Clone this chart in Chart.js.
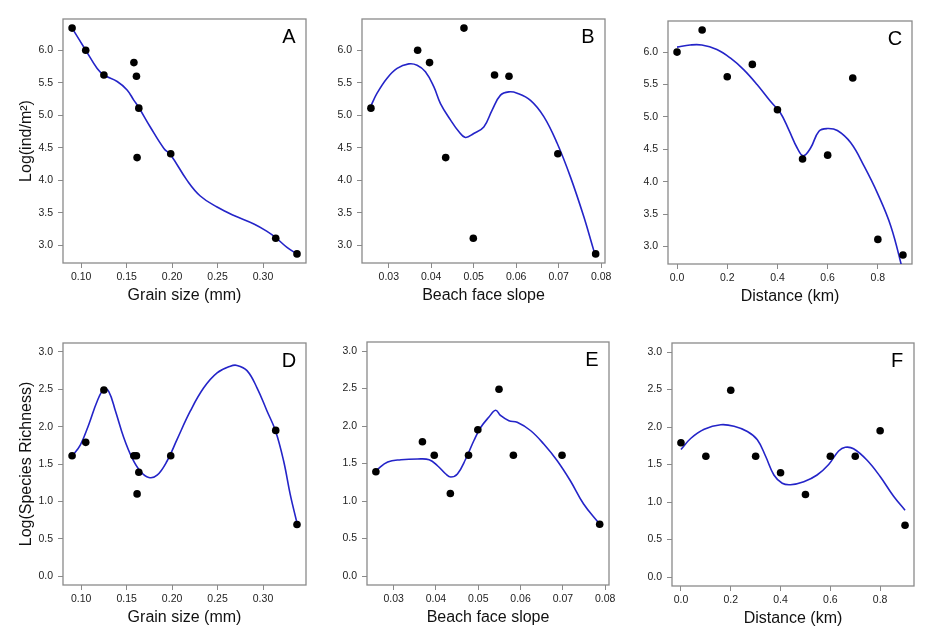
<!DOCTYPE html>
<html>
<head>
<meta charset="utf-8">
<script src="https://cdn.jsdelivr.net/npm/chart.js@4"></script>
<style>
  html, body { margin: 0; padding: 0; background: #ffffff; }
  #wrap { position: relative; width: 927px; height: 636px; overflow: hidden; background: #fff; }
  canvas { position: absolute; }
</style>
</head>
<body>
<div id="wrap"></div>
<script>
// ---------- site observations (10 sites) ----------
const distanceKm   = [0.0, 0.1, 0.2, 0.3, 0.4, 0.5, 0.6, 0.7, 0.8, 0.9];
const grainSize    = [0.105, 0.090, 0.125, 0.158, 0.1634, 0.1615, 0.1985, 0.1608, 0.314, 0.3374];
const beachSlope   = [0.0368, 0.0477, 0.0549, 0.0396, 0.0258, 0.0434, 0.0698, 0.0583, 0.0499, 0.0787];
const logAbundance = [6.00, 6.34, 5.62, 5.81, 5.11, 4.35, 4.41, 5.60, 3.11, 2.87];
const logRichness  = [1.79, 1.61, 2.49, 1.61, 1.39, 1.10, 1.61, 1.61, 1.95, 0.69];

// ---------- fitted smooth curves ----------
const fitA_x = [0.090,0.105,0.1176,0.125,0.1396,0.1505,0.158,0.1634,0.176,0.191,0.1985,0.2165,0.231,0.2495,0.268,0.290,0.304,0.314,0.3264,0.3374];
const fitA_y = [6.34,6.00,5.72,5.62,5.52,5.39,5.23,5.12,4.82,4.49,4.39,4.00,3.76,3.59,3.46,3.33,3.22,3.12,2.97,2.87];

const fitB_x = [0.02576,0.02725,0.0296,0.03196,0.0347,0.03667,0.03863,0.0406,0.04217,0.04452,0.04648,0.04805,0.0500,0.05237,0.05433,0.0563,0.05826,0.06022,0.06336,0.0665,0.06964,0.07278,0.07592,0.07827,0.07866];
const fitB_y = [5.14,5.34,5.57,5.72,5.79,5.77,5.67,5.44,5.18,4.93,4.75,4.66,4.72,4.82,5.08,5.31,5.36,5.34,5.23,4.98,4.57,4.05,3.44,2.92,2.85];

const fitC_x = [0.0,0.052,0.0987,0.1587,0.212,0.2653,0.3187,0.372,0.412,0.4453,0.4787,0.5027,0.532,0.5653,0.5987,0.6387,0.692,0.7453,0.7987,0.852,0.9];
const fitC_y = [6.077,6.11,6.11,6.04,5.91,5.73,5.50,5.24,5.06,4.80,4.52,4.40,4.52,4.78,4.82,4.79,4.60,4.24,3.82,3.31,2.62];

const fitD_x = [0.0901,0.0993,0.1084,0.1176,0.1249,0.1304,0.1377,0.1469,0.156,0.1652,0.1744,0.1835,0.1945,0.2055,0.2201,0.2348,0.2495,0.2641,0.2714,0.2824,0.2934,0.3044,0.3139,0.3227,0.330,0.3374];
const fitD_y = [1.605,1.76,2.03,2.34,2.50,2.47,2.21,1.85,1.58,1.40,1.32,1.35,1.54,1.83,2.21,2.52,2.72,2.81,2.82,2.75,2.52,2.21,1.94,1.54,1.09,0.71];

const fitE_x = [0.02592,0.02859,0.03173,0.03565,0.0384,0.04036,0.04232,0.0435,0.04507,0.04703,0.049,0.05056,0.05253,0.0541,0.05527,0.05724,0.0592,0.06234,0.06548,0.06862,0.07176,0.0749,0.07843];
const fitE_y = [1.41,1.52,1.55,1.56,1.55,1.47,1.36,1.32,1.36,1.56,1.81,1.98,2.12,2.21,2.14,2.07,2.05,1.94,1.76,1.54,1.27,0.96,0.71];

const fitF_x = [0.0,0.04,0.0933,0.16,0.2133,0.2667,0.3067,0.34,0.3733,0.4067,0.44,0.4933,0.5467,0.5933,0.6333,0.66,0.6933,0.7467,0.80,0.8533,0.90];
const fitF_y = [1.70,1.85,1.97,2.03,2.01,1.94,1.83,1.61,1.36,1.25,1.23,1.27,1.36,1.50,1.68,1.73,1.71,1.56,1.34,1.08,0.89];

// ---------- tick values / labels ----------
const ticksGrain   = [0.10, 0.15, 0.20, 0.25, 0.30];
const labelsGrain  = ['0.10', '0.15', '0.20', '0.25', '0.30'];
const ticksSlope   = [0.03, 0.04, 0.05, 0.06, 0.07, 0.08];
const labelsSlope  = ['0.03', '0.04', '0.05', '0.06', '0.07', '0.08'];
const ticksDist    = [0.0, 0.2, 0.4, 0.6, 0.8];
const labelsDist   = ['0.0', '0.2', '0.4', '0.6', '0.8'];
const ticksAbund   = [3.0, 3.5, 4.0, 4.5, 5.0, 5.5, 6.0];
const labelsAbund  = ['3.0', '3.5', '4.0', '4.5', '5.0', '5.5', '6.0'];
const ticksRich    = [0.0, 0.5, 1.0, 1.5, 2.0, 2.5, 3.0];
const labelsRich   = ['0.0', '0.5', '1.0', '1.5', '2.0', '2.5', '3.0'];

// ---------- drawing ----------
const FONT = '"Liberation Sans", Arial, Helvetica, sans-serif';
const GRAY = '#8a8a8a';
const LINE_BLUE = '#2424c8';
const PAD_L = 63, PAD_T = 19, PAD_R = 10, PAD_B = 50;

const framePlugin = {
  id: 'frameLetter',
  beforeDatasetsDraw(chart, args, opts) {
    const a = chart.chartArea, ctx = chart.ctx;
    ctx.save();
    ctx.strokeStyle = GRAY;
    ctx.lineWidth = 1.3;
    ctx.strokeRect(a.left, a.top, a.right - a.left, a.bottom - a.top);
    ctx.restore();
  },
  afterDatasetsDraw(chart, args, opts) {
    const a = chart.chartArea, ctx = chart.ctx;
    ctx.save();
    ctx.fillStyle = '#000';
    ctx.font = '20px ' + FONT;
    ctx.textAlign = 'center';
    ctx.textBaseline = 'middle';
    ctx.fillText(opts.letter, a.right - 17, a.top + 18);
    ctx.restore();
  }
};

function pairs(xs, ys) { return xs.map((x, i) => ({ x: x, y: ys[i] })); }

function makePanel(cfg) {
  const W = (cfg.box.r - cfg.box.l) + PAD_L + PAD_R;
  const H = (cfg.box.b - cfg.box.t) + PAD_T + PAD_B;
  const cv = document.createElement('canvas');
  cv.width = W; cv.height = H;
  cv.style.left = (cfg.box.l - PAD_L) + 'px';
  cv.style.top = (cfg.box.t - PAD_T) + 'px';
  cv.style.width = W + 'px';
  cv.style.height = H + 'px';
  document.getElementById('wrap').appendChild(cv);

  new Chart(cv, {
    type: 'scatter',
    data: {
      datasets: [
        {
          data: pairs(cfg.px, cfg.py),
          backgroundColor: '#000',
          borderColor: '#000',
          pointRadius: 3.8,
          pointHoverRadius: 3.8,
          borderWidth: 0
        },
        {
          data: pairs(cfg.fx, cfg.fy),
          showLine: true,
          borderColor: LINE_BLUE,
          borderWidth: 1.6,
          pointRadius: 0,
          tension: 0.4,
          fill: false
        }
      ]
    },
    options: {
      responsive: false,
      animation: false,
      events: [],
      layout: { padding: { left: 0, top: PAD_T, right: PAD_R, bottom: 0 } },
      plugins: {
        legend: { display: false },
        tooltip: { enabled: false },
        frameLetter: { letter: cfg.letter }
      },
      scales: {
        x: {
          type: 'linear',
          min: cfg.xmin, max: cfg.xmax,
          afterBuildTicks: s => { s.ticks = cfg.xt.map(v => ({ value: v })); },
          afterFit: s => { s.height = PAD_B; },
          ticks: {
            autoSkip: false, maxRotation: 0, minRotation: 0,
            callback: (v, i) => cfg.xl[i],
            color: '#222', font: { family: FONT, size: 10.5 }, padding: 3
          },
          grid: { display: true, drawOnChartArea: false, drawTicks: true, tickLength: 5, color: GRAY, lineWidth: 1 },
          border: { display: false },
          title: {
            display: true, text: cfg.xtitle, color: '#111',
            font: { family: FONT, size: 16 }, padding: { top: 0, bottom: 7.5 }
          }
        },
        y: {
          type: 'linear',
          min: cfg.ymin, max: cfg.ymax,
          afterBuildTicks: s => { s.ticks = cfg.yt.map(v => ({ value: v })); },
          afterFit: s => { s.width = PAD_L; },
          ticks: {
            autoSkip: false,
            callback: (v, i) => cfg.yl[i],
            color: '#222', font: { family: FONT, size: 10.5 }, padding: 5
          },
          grid: { display: true, drawOnChartArea: false, drawTicks: true, tickLength: 5, color: GRAY, lineWidth: 1 },
          border: { display: false },
          title: {
            display: !!cfg.ytitle, text: cfg.ytitle || '', color: '#111',
            font: { family: FONT, size: 16 }, padding: { top: 17, bottom: 0 }
          }
        }
      }
    },
    plugins: [framePlugin]
  });
}

const grainRange = { xmin: 0.0800, xmax: 0.3473 };
const slopeRange = { xmin: 0.0237, xmax: 0.0809 };
const distRange  = { xmin: -0.036, xmax: 0.936 };
const abundRange = { ymin: 2.73, ymax: 6.48 };
const richRange  = { ymin: -0.12, ymax: 3.12 };

makePanel(Object.assign({ letter: 'A', box: { l: 63, t: 19, r: 306, b: 263 },
  px: grainSize, py: logAbundance, fx: fitA_x, fy: fitA_y,
  xt: ticksGrain, xl: labelsGrain, yt: ticksAbund, yl: labelsAbund,
  xtitle: 'Grain size (mm)', ytitle: 'Log(ind/m²)' }, grainRange, abundRange));

makePanel(Object.assign({ letter: 'B', box: { l: 362, t: 19, r: 605, b: 263 },
  px: beachSlope, py: logAbundance, fx: fitB_x, fy: fitB_y,
  xt: ticksSlope, xl: labelsSlope, yt: ticksAbund, yl: labelsAbund,
  xtitle: 'Beach face slope' }, slopeRange, abundRange));

makePanel(Object.assign({ letter: 'C', box: { l: 668, t: 21, r: 912, b: 264 },
  px: distanceKm, py: logAbundance, fx: fitC_x, fy: fitC_y,
  xt: ticksDist, xl: labelsDist, yt: ticksAbund, yl: labelsAbund,
  xtitle: 'Distance (km)' }, distRange, abundRange));

makePanel(Object.assign({ letter: 'D', box: { l: 63, t: 343, r: 306, b: 585 },
  px: grainSize, py: logRichness, fx: fitD_x, fy: fitD_y,
  xt: ticksGrain, xl: labelsGrain, yt: ticksRich, yl: labelsRich,
  xtitle: 'Grain size (mm)', ytitle: 'Log(Species Richness)' }, grainRange, richRange));

makePanel(Object.assign({ letter: 'E', box: { l: 367, t: 342, r: 609, b: 585 },
  px: beachSlope, py: logRichness, fx: fitE_x, fy: fitE_y,
  xt: ticksSlope, xl: labelsSlope, yt: ticksRich, yl: labelsRich,
  xtitle: 'Beach face slope' }, slopeRange, richRange));

makePanel(Object.assign({ letter: 'F', box: { l: 672, t: 343, r: 914, b: 586 },
  px: distanceKm, py: logRichness, fx: fitF_x, fy: fitF_y,
  xt: ticksDist, xl: labelsDist, yt: ticksRich, yl: labelsRich,
  xtitle: 'Distance (km)' }, distRange, richRange));
</script>
</body>
</html>
